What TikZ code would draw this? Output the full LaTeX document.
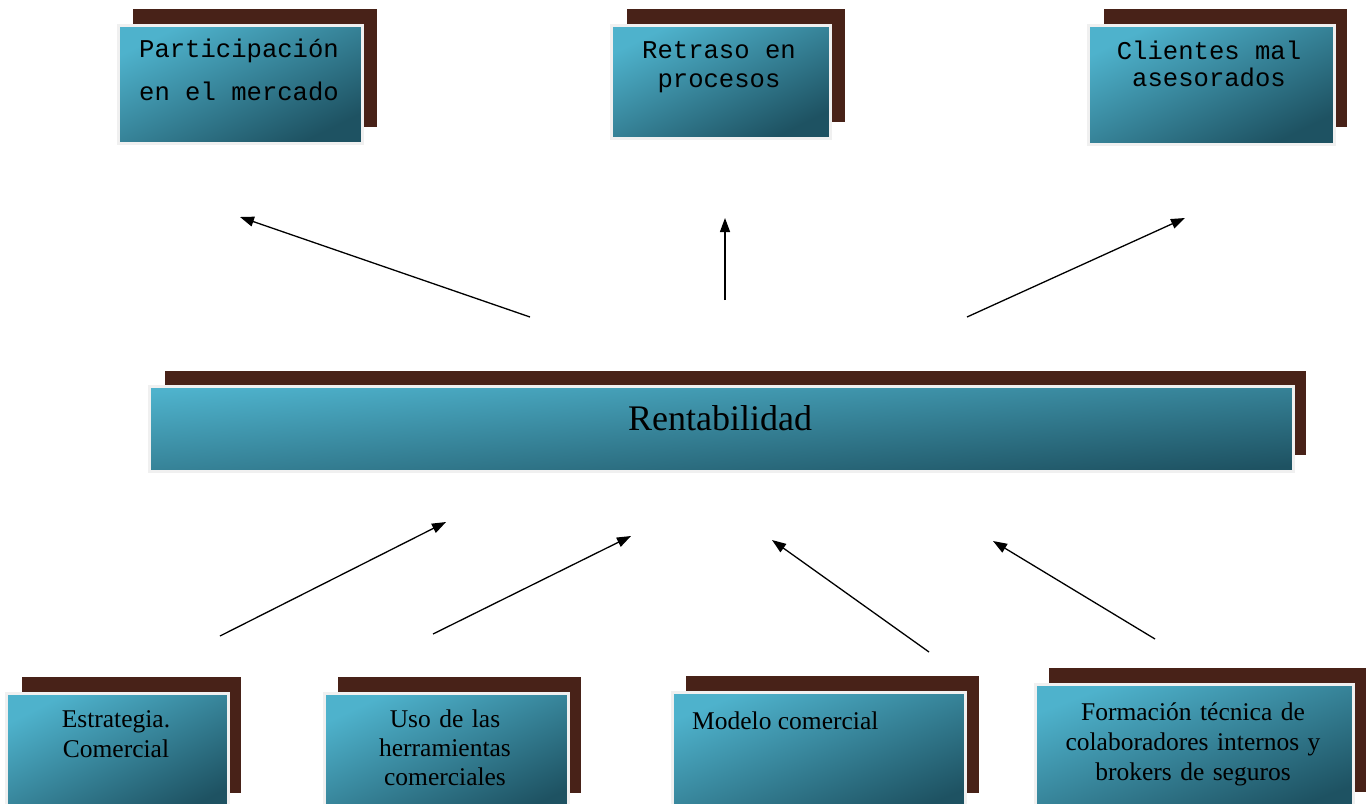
\documentclass[tikz,border=0pt]{standalone}
\usepackage{fontspec}
\setmainfont{Liberation Serif}
\newfontfamily\typefont{Liberation Mono}
\usetikzlibrary{arrows.meta}
\definecolor{shadebrown}{RGB}{72,34,24}
\definecolor{tealhi}{RGB}{78,178,204}
\definecolor{teallo}{RGB}{30,82,98}
\definecolor{rimgray}{RGB}{240,240,240}
\newcommand{\monosize}[1]{\typefont\fontsize{25.6}{#1}\selectfont}
% one full character cell of the monospaced face
\newcommand{\cell}{\hspace*{0.6em}}
\tikzset{
  backplate/.style={rectangle, fill=shadebrown, draw=none, inner sep=0pt, anchor=north west},
  frontplate/.style={rectangle, draw=rimgray, line width=2.5pt, inner sep=0pt, anchor=north west,
    shading=axis, left color=tealhi, right color=teallo, shading angle=#1},
  frontplate/.default=26,
  monotext/.style={inner sep=0pt, anchor=base, align=center, text width=#1,
    font=\monosize{29}},
  serifline/.style={inner sep=0pt, anchor=base, align=center, text width=#1,
    font=\fontsize{25.5}{30.5}\selectfont},
  link/.style={line width=1.3pt, -{Triangle[length=14pt,width=10pt]}}
}
\begin{document}
\begin{tikzpicture}[x=1pt,y=-1pt]
\useasboundingbox (0,0) rectangle (1372,803);

% --- upper row ---
\node[backplate, minimum width=244pt, minimum height=118pt] (p1s) at (133,9) {};
\node[frontplate, minimum width=244pt, minimum height=118pt] (p1) at (117,24) {};
\node[monotext=240pt, font=\monosize{43}] (p1t) at (239,57) {Participación\\en\cell el\cell mercado};

\node[backplate, minimum width=218pt, minimum height=113pt] (p2s) at (627,9) {};
\node[frontplate, minimum width=219pt, minimum height=113pt] (p2) at (610,24) {};
\node[monotext=215pt] (p2t) at (719,58) {Retraso\cell en\\procesos};

\node[backplate, minimum width=243pt, minimum height=118pt] (p3s) at (1104,9) {};
\node[frontplate, minimum width=246pt, minimum height=119pt] (p3) at (1087,24) {};
\node[monotext=240pt, font=\monosize{27.5}] (p3t) at (1209,59) {Clientes\cell mal\\asesorados};

% --- central bar ---
\node[backplate, minimum width=1141pt, minimum height=84pt] (ms) at (165,371) {};
\node[frontplate=4.2, minimum width=1144pt, minimum height=85pt] (m) at (148,385) {};
\node[inner sep=0pt, anchor=base, font=\fontsize{36}{40}\selectfont] (mt) at (720,430) {Rentabilidad};

% --- lower row ---
\node[backplate, minimum width=219pt, minimum height=116pt] (b1s) at (22,677) {};
\node[frontplate=27, minimum width=222pt, minimum height=125pt] (b1) at (5,692) {};
\node[serifline=215pt] (b1t) at (116,727) {Estrategia.\\Comercial};

\node[backplate, minimum width=243pt, minimum height=116pt] (b2s) at (338,677) {};
\node[frontplate=25, minimum width=244pt, minimum height=125pt] (b2) at (323,692) {};
\node[serifline=240pt, font=\fontsize{25.5}{29}\selectfont] (b2t) at (445,727) {Uso de las\\herramientas\\comerciales};

\node[backplate, minimum width=293pt, minimum height=117pt] (b3s) at (686,676) {};
\node[frontplate=22, minimum width=293pt, minimum height=125pt] (b3) at (671,691) {};
\node[inner sep=0pt, anchor=base west, font=\fontsize{25.5}{30}\selectfont] (b3t) at (692,729) {Modelo comercial};

\node[backplate, minimum width=317pt, minimum height=124pt] (b4s) at (1049,668) {};
\node[frontplate=21, minimum width=318pt, minimum height=130pt] (b4) at (1034,683) {};
\node[serifline=315pt, font=\fontsize{25.5}{30}\selectfont] (b4t) at (1193,720) {Formación técnica de\\colaboradores internos y\\brokers de seguros};

% --- arrow end points ---
\coordinate (u1a) at (530,317); \coordinate (u1b) at (240,217);
\coordinate (u2a) at (725,300); \coordinate (u2b) at (725,218);
\coordinate (u3a) at (967,317); \coordinate (u3b) at (1185,218);
\coordinate (d1a) at (220,636); \coordinate (d1b) at (446,522);
\coordinate (d2a) at (433,634); \coordinate (d2b) at (631,536);
\coordinate (d3a) at (929,652); \coordinate (d3b) at (772,540);
\coordinate (d4a) at (1155,639); \coordinate (d4b) at (993,541);

\draw[link] (u1a) -- (u1b);
\draw[link] (u2a) -- (u2b);
\draw[link] (u3a) -- (u3b);
\draw[link] (d1a) -- (d1b);
\draw[link] (d2a) -- (d2b);
\draw[link] (d3a) -- (d3b);
\draw[link] (d4a) -- (d4b);
\end{tikzpicture}
\end{document}
